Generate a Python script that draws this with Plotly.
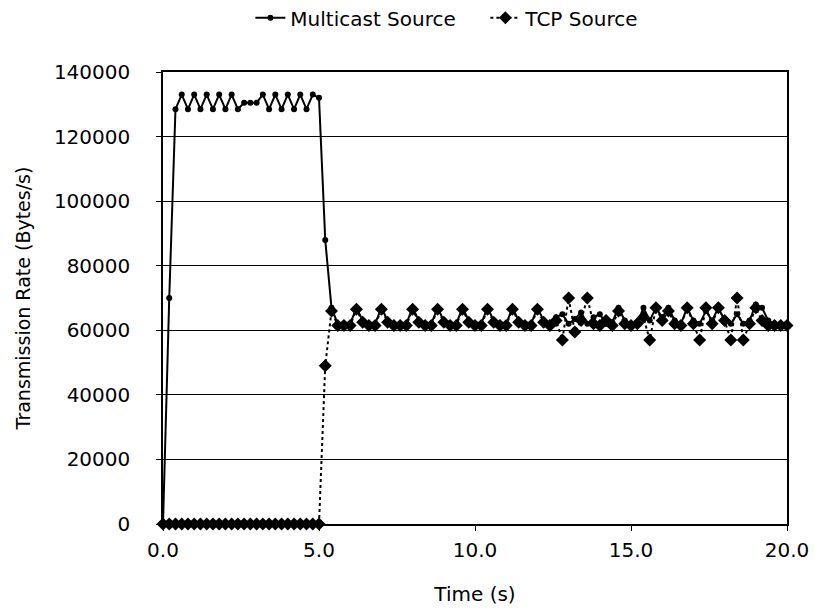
import plotly.graph_objects as go

# sample times (s), one reading every 0.2 s
time_s = [
    0.0, 0.2, 0.4, 0.6, 0.8, 1.0, 1.2, 1.4, 1.6, 1.8,
    2.0, 2.2, 2.4, 2.6, 2.8, 3.0, 3.2, 3.4, 3.6, 3.8,
    4.0, 4.2, 4.4, 4.6, 4.8, 5.0, 5.2, 5.4, 5.6, 5.8,
    6.0, 6.2, 6.4, 6.6, 6.8, 7.0, 7.2, 7.4, 7.6, 7.8,
    8.0, 8.2, 8.4, 8.6, 8.8, 9.0, 9.2, 9.4, 9.6, 9.8,
    10.0, 10.2, 10.4, 10.6, 10.8, 11.0, 11.2, 11.4, 11.6, 11.8,
    12.0, 12.2, 12.4, 12.6, 12.8, 13.0, 13.2, 13.4, 13.6, 13.8,
    14.0, 14.2, 14.4, 14.6, 14.8, 15.0, 15.2, 15.4, 15.6, 15.8,
    16.0, 16.2, 16.4, 16.6, 16.8, 17.0, 17.2, 17.4, 17.6, 17.8,
    18.0, 18.2, 18.4, 18.6, 18.8, 19.0, 19.2, 19.4, 19.6, 19.8,
    20.0,
]

multicast_rate = [
    0, 70000, 128500, 133000, 128500, 133000, 128500, 133000, 128500, 133000,
    128500, 133000, 128500, 130500, 130500, 130500, 133000, 128500, 133000, 128500,
    133000, 128500, 133000, 128500, 133000, 132000, 88000, 67000, 62000, 62000,
    62000, 67000, 63000, 62000, 62000, 67000, 63000, 62000, 62000, 62000,
    67000, 63000, 62000, 62000, 67000, 63000, 62000, 62000, 67000, 63000,
    62000, 62000, 67000, 63000, 62000, 62000, 67000, 63000, 62000, 62000,
    67000, 63000, 62000, 64000, 65000, 62000, 63500, 65500, 62000, 64000,
    65000, 62000, 62500, 67000, 63000, 62000, 62000, 67000, 63000, 67000,
    64000, 67000, 63000, 62000, 67000, 63000, 62000, 66000, 63000, 67000,
    63000, 62000, 65000, 62000, 63000, 68000, 67000, 63000, 62000, 62000,
    62000,
]

tcp_rate = [
    0, 0, 0, 0, 0, 0, 0, 0, 0, 0,
    0, 0, 0, 0, 0, 0, 0, 0, 0, 0,
    0, 0, 0, 0, 0, 0, 49000, 66000, 61500, 61500,
    61500, 66500, 62500, 61500, 61500, 66500, 62500, 61500, 61500, 61500,
    66500, 62500, 61500, 61500, 66500, 62500, 61500, 61500, 66500, 62500,
    61500, 61500, 66500, 62500, 61500, 61500, 66500, 62500, 61500, 61500,
    66500, 62500, 61500, 63000, 57000, 70000, 59500, 63000, 70000, 62000,
    61500, 63000, 61500, 66000, 62000, 61500, 62000, 64000, 57000, 67000,
    63000, 66000, 62000, 61500, 67000, 62000, 57000, 67000, 62000, 67000,
    63000, 57000, 70000, 57000, 62000, 67000, 63000, 61500, 61500, 61500,
    61500,
]

y_ticks = [0, 20000, 40000, 60000, 80000, 100000, 120000, 140000]
y_tick_labels = ["0", "20000", "40000", "60000", "80000", "100000", "120000", "140000"]
x_ticks = [0, 5, 10, 15, 20]
x_tick_labels = ["0.0", "5.0", "10.0", "15.0", "20.0"]

FONT = "DejaVu Sans, Liberation Sans, sans-serif"

fig = go.Figure()
fig.add_trace(go.Scatter(
    x=time_s, y=multicast_rate, name="Multicast Source",
    mode="lines+markers",
    line=dict(color="black", width=2),
    marker=dict(symbol="circle", size=6, color="black"),
    cliponaxis=False,
))
fig.add_trace(go.Scatter(
    x=time_s, y=tcp_rate, name="TCP Source",
    mode="lines+markers",
    line=dict(color="black", width=2, dash="dot"),
    marker=dict(symbol="diamond", size=10, color="black"),
    cliponaxis=False,
))

fig.update_layout(
    width=815, height=611,
    paper_bgcolor="white", plot_bgcolor="white",
    margin=dict(l=163, r=28, t=72, b=87, autoexpand=False),
    font=dict(family=FONT, size=19, color="black"),
    showlegend=True,
    legend=dict(
        orientation="h", x=0.14, xanchor="left", y=1.12, yanchor="middle",
        font=dict(size=20), bgcolor="rgba(0,0,0,0)",
        entrywidth=190,
    ),
    xaxis=dict(
        range=[0, 20], tickvals=x_ticks, ticktext=x_tick_labels,
        showgrid=False, zeroline=False,
        showline=True, linecolor="black", linewidth=1.5, mirror=True,
        ticks="outside", ticklen=5, tickcolor="black",
        tickfont=dict(size=20), ticklabelstandoff=2,
        title=dict(text="Time (s)", standoff=26, font=dict(size=20)),
    ),
    yaxis=dict(
        range=[0, 140000], tickvals=y_ticks, ticktext=y_tick_labels,
        showgrid=True, gridcolor="black", gridwidth=1, zeroline=False,
        showline=True, linecolor="black", linewidth=1.5, mirror=True,
        ticks="outside", ticklen=5, tickcolor="black",
        tickfont=dict(size=20), ticklabelstandoff=22,
        title=dict(text="Transmission Rate (Bytes/s)", standoff=18, font=dict(size=19)),
    ),
)

# drop the default page margin so the figure sits at the window's corner
fig.write_html(
    "out.html",
    config={"displayModeBar": False},
    post_script="document.body.style.margin = '0px';",
)
